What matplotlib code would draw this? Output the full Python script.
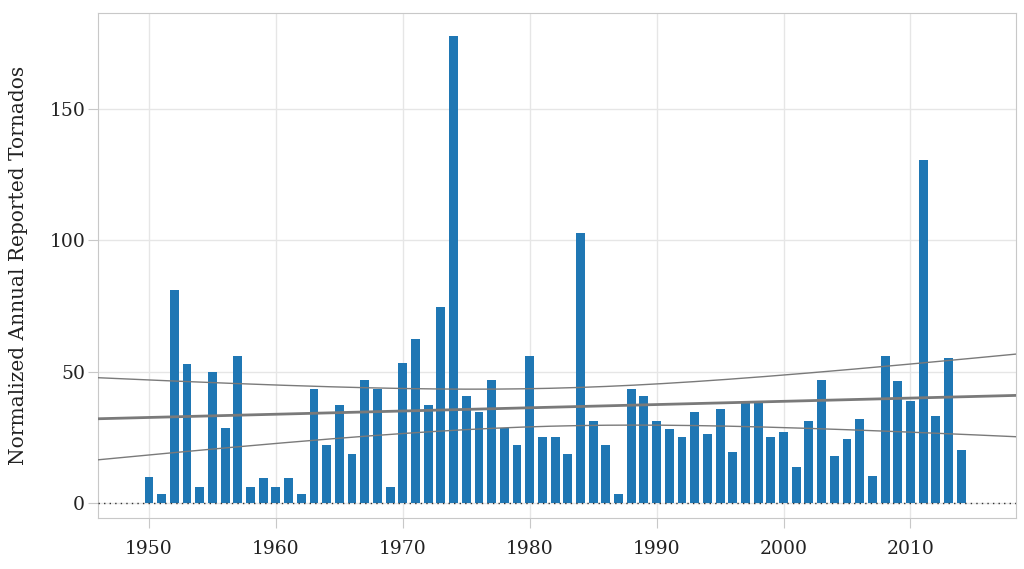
#tornado_bars.py

import numpy as np
import matplotlib.pyplot as plt

# normalized annual reported tornados, 1950-2014
years = np.arange(1950, 2015)
counts = [10, 3.5, 81, 53, 6.3, 50, 28.5, 56, 6.3, 9.6,
          6.3, 9.6, 3.5, 43.6, 22, 37.3, 18.6, 47, 43.6, 6.3,
          53.4, 62.3, 37.4, 74.7, 177.5, 40.8, 34.7, 47, 28.5, 22,
          56, 25, 25, 18.6, 102.9, 31.2, 22, 3.4, 43.5, 40.8,
          31.2, 28.3, 25, 34.6, 26.3, 36, 19.4, 38.1, 38.9, 25,
          27, 13.8, 31.2, 47, 18, 24.3, 31.9, 10.4, 55.9, 46.4,
          38.8, 130.4, 33.2, 55.2, 20.2]
counts = np.array(counts)

xticks = [1950, 1960, 1970, 1980, 1990, 2000, 2010]
yticks = [0, 50, 100, 150]

#linear fit plus 95% confidence band of the mean
n = len(years)
slope, icpt = np.polyfit(years, counts, 1)
resid = counts - (slope*years + icpt)
s = np.sqrt(np.sum(resid**2)/(n - 2))
sxx = np.sum((years - years.mean())**2)
xx = np.linspace(1945.5, 2018.8, 200)
fit = slope*xx + icpt
se = s*np.sqrt(1./n + (xx - years.mean())**2/sxx)
t = 1.998

plt.rcParams['font.family'] = ['DejaVu Serif']

fig = plt.figure(figsize=(10.24, 5.69), dpi=100)
ax = fig.add_axes([0.0954, 0.0902, 0.8966, 0.8868])

ax.bar(years, counts, width=0.7, color='#1f77b4', zorder=2)
ax.axhline(0, color='#333333', linestyle=(0, (1, 3)), linewidth=1, zorder=3)

ax.plot(xx, fit, color='#7a7a7a', linewidth=2, zorder=4)
ax.plot(xx, fit + t*se, color='#7a7a7a', linewidth=1, zorder=4)
ax.plot(xx, fit - t*se, color='#7a7a7a', linewidth=1, zorder=4)

ax.set_xlim(1945.96, 2018.3)
ax.set_ylim(-5.5, 186.4)
ax.set_xticks(xticks)
ax.set_yticks(yticks)
ax.grid(True, color='#e6e6e6', linewidth=1, zorder=0)
ax.set_axisbelow(True)
for sp in ax.spines.values():
    sp.set_color('#c8c8c8')
ax.tick_params(colors='#c8c8c8', labelcolor='#222222', labelsize=13.5)
ax.tick_params(axis='x', length=7, pad=9)
ax.tick_params(axis='y', length=7, pad=2)
ax.set_ylabel('Normalized Annual Reported Tornados', fontsize=14.5, color='#222222')
ax.yaxis.set_label_coords(-0.076, 0.5)

fig.savefig('out.png', dpi=100)
